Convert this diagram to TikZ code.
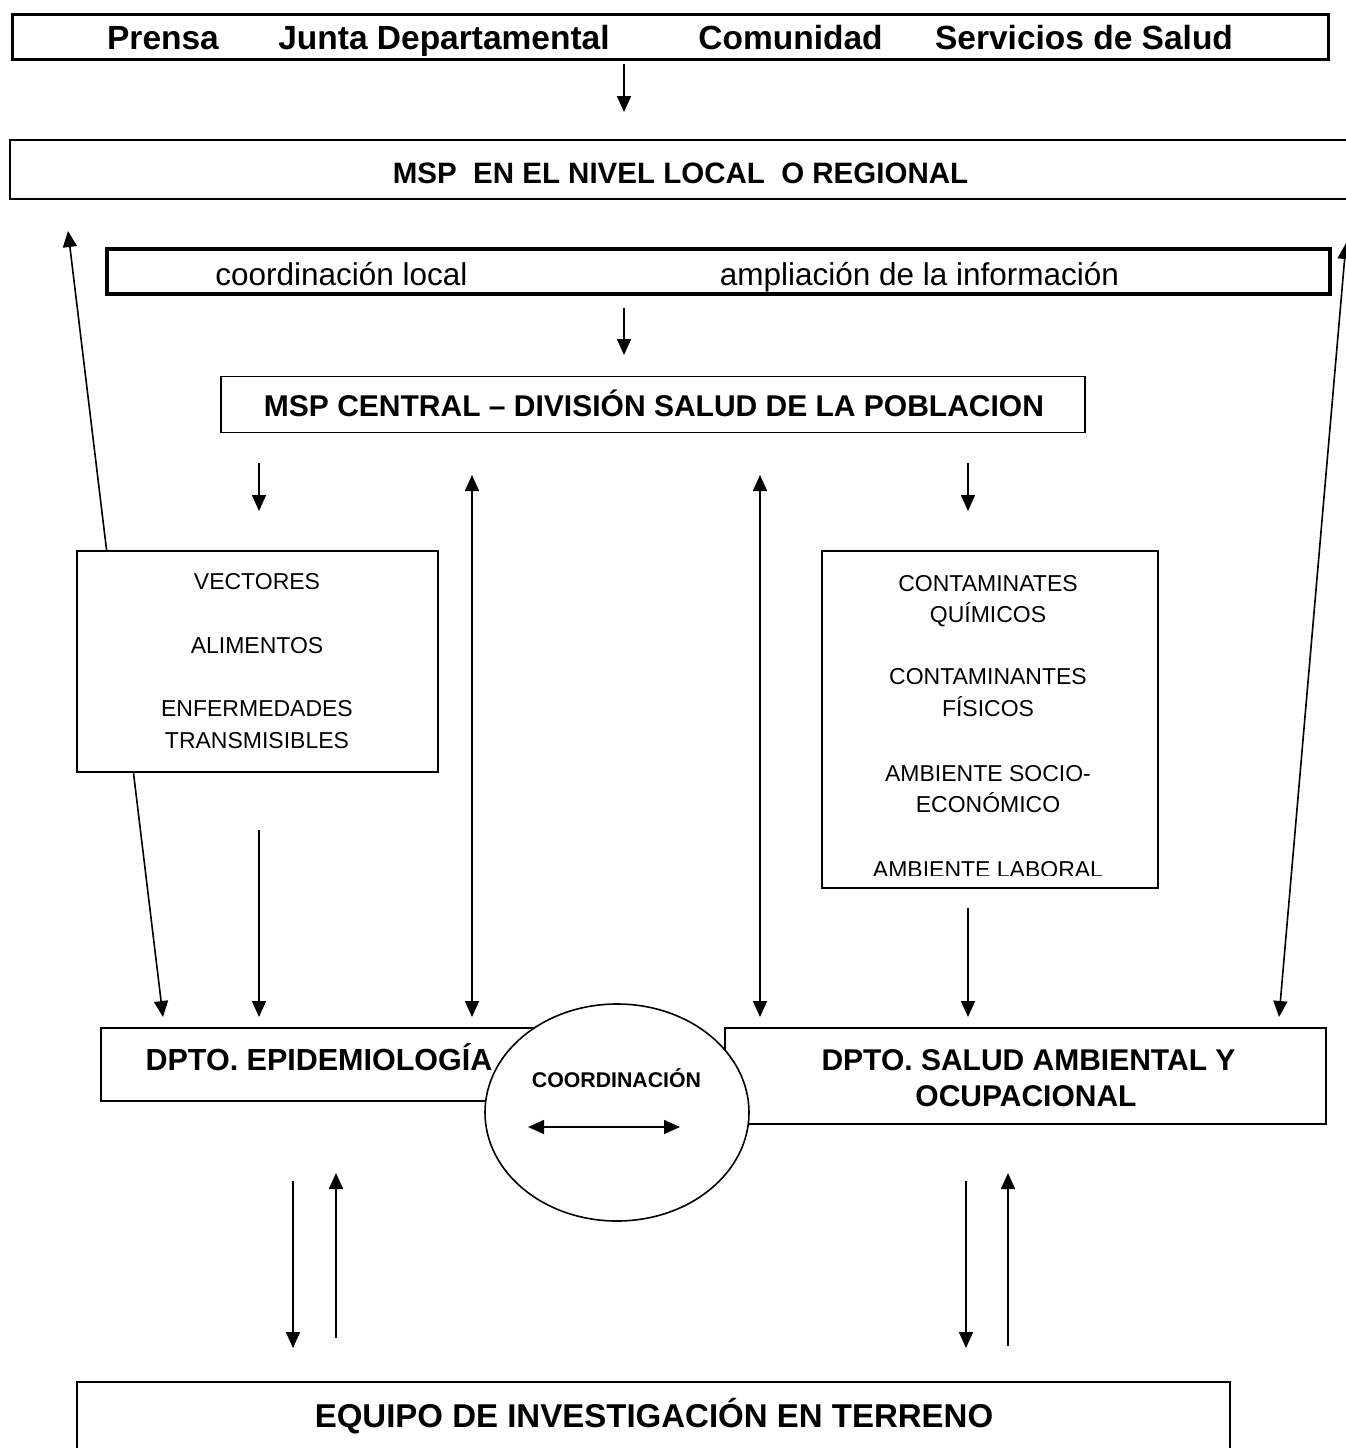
\documentclass[tikz,border=0pt]{standalone}
\usepackage{fontspec}
\setmainfont{Liberation Sans}
\usetikzlibrary{arrows.meta,shapes.geometric}
\begin{document}
\begin{tikzpicture}[x=1pt,y=-1pt,
  box/.style={draw, line width=1.6pt, inner sep=0pt, fill=white},
  arr/.style={-{Triangle[length=16pt,width=14pt]}, line width=1.6pt},
  darr/.style={{Triangle[length=16pt,width=14pt]}-{Triangle[length=16pt,width=14pt]}, line width=1.6pt},
  tb/.style={inner sep=0pt, anchor=base},
  ftop/.style={tb, font=\fontsize{33.5}{40}\selectfont\bfseries},
  freg/.style={tb, font=\fontsize{29.5}{36}\selectfont\bfseries},
  fcoord/.style={tb, font=\fontsize{31.5}{38}\selectfont},
  fcen/.style={tb, font=\fontsize{30}{36}\selectfont\bfseries},
  flist/.style={tb, font=\fontsize{23}{28}\selectfont},
  fdpto/.style={tb, font=\fontsize{30}{36}\selectfont\bfseries},
  fsmall/.style={tb, font=\fontsize{21.3}{26}\selectfont\bfseries},
  fbot/.style={tb, font=\fontsize{33}{40}\selectfont\bfseries}
]
\useasboundingbox (0,0) rectangle (1346,1448);
\clip (0,0) rectangle (1346,1448);

% long slanted double arrows (behind boxes)
\coordinate (lu) at (68,231);
\coordinate (ld) at (163,1017);
\draw[darr] (lu) -- (ld);
\coordinate (ru) at (1346,243);
\coordinate (rd) at (1279,1017);
\draw[darr] (ru) -- (rd);

% boxes
\node[box, line width=3.2pt, minimum width=1316pt, minimum height=45pt] (top) at (670.5,37) {};
\node[box, line width=2pt, minimum width=1360pt, minimum height=59pt] (reg) at (690,169.5) {};
\node[box, line width=4.5pt, minimum width=1223pt, minimum height=45pt] (coord) at (718.5,271.5) {};
\node[box, minimum width=864pt, minimum height=56pt] (central) at (653,404.5) {};
\node[box, minimum width=361pt, minimum height=221pt] (vect) at (257.5,661.5) {};
\node[box, minimum width=336pt, minimum height=337pt] (cont) at (990,719.5) {};
\node[box, minimum width=500pt, minimum height=73pt] (epi) at (351,1064.5) {};
\node[box, minimum width=601pt, minimum height=96pt] (amb) at (1025.5,1076) {};
\node[box, ellipse, minimum width=264pt, minimum height=217pt] (ell) at (617,1112.5) {};
\node[box, line width=2pt, minimum width=1153pt, minimum height=120pt] (equipo) at (653.5,1442) {};

% texts
\node[ftop] (t1) at (163,49) {Prensa};
\node[ftop] (t2) at (444,49) {Junta Departamental};
\node[ftop] (t3) at (790.5,49) {Comunidad};
\node[ftop] (t4) at (1084,49) {Servicios de Salud};
\node[freg] (treg) at (680.5,183.5) {MSP\ \ EN EL NIVEL LOCAL\ \ O REGIONAL};
\node[fcoord] (tc1) at (341.5,285) {coordinación local};
\node[fcoord] (tc2) at (919.5,285) {ampliación de la información};
\node[fcen] (tcen) at (654,416) {MSP CENTRAL – DIVISIÓN SALUD DE LA POBLACION};

\node[flist] (v1) at (257,589) {VECTORES};
\node[flist] (v2) at (257,653) {ALIMENTOS};
\node[flist] (v3) at (257,716.5) {ENFERMEDADES};
\node[flist] (v4) at (257,748.5) {TRANSMISIBLES};

\node[flist] (c1) at (988,591) {CONTAMINATES};
\node[flist] (c2) at (988,622) {QUÍMICOS};
\node[flist] (c3) at (988,684) {CONTAMINANTES};
\node[flist] (c4) at (988,716) {FÍSICOS};
\node[flist] (c5) at (988,781) {AMBIENTE SOCIO-};
\node[flist] (c6) at (988,812) {ECONÓMICO};
\begin{scope}
  \clip (823,552) rectangle (1157,875);
  \node[flist] (c7) at (988,877) {AMBIENTE LABORAL};
\end{scope}

\node[fdpto, font=\fontsize{30.5}{36}\selectfont\bfseries] (tepi) at (319,1070.5) {DPTO. EPIDEMIOLOGÍA};
\node[fdpto] (tamb1) at (1028.5,1070.5) {DPTO. SALUD AMBIENTAL Y};
\node[fdpto] (tamb2) at (1026,1106.5) {OCUPACIONAL};
\node[fsmall] (tcoo) at (616.5,1087.5) {COORDINACIÓN};
\node[fbot] (tequ) at (654,1427) {EQUIPO DE INVESTIGACIÓN EN TERRENO};

% arrows
\coordinate (a1s) at (624,64);   \coordinate (a1e) at (624,112);
\coordinate (a2s) at (624,308);  \coordinate (a2e) at (624,355);
\coordinate (a3s) at (259,463);  \coordinate (a3e) at (259,511);
\coordinate (a4s) at (968,463);  \coordinate (a4e) at (968,511);
\coordinate (d1s) at (472,475);  \coordinate (d1e) at (472,1017);
\coordinate (d2s) at (760,475);  \coordinate (d2e) at (760,1017);
\coordinate (a5s) at (259,830);  \coordinate (a5e) at (259,1017);
\coordinate (a6s) at (968,908);  \coordinate (a6e) at (968,1017);
\coordinate (b1s) at (293,1181); \coordinate (b1e) at (293,1348);
\coordinate (b2s) at (336,1338); \coordinate (b2e) at (336,1173);
\coordinate (b3s) at (966,1181); \coordinate (b3e) at (966,1348);
\coordinate (b4s) at (1008,1346);\coordinate (b4e) at (1008,1173);
\coordinate (cl) at (528,1127);  \coordinate (cr) at (680,1127);

\draw[arr] (a1s) -- (a1e);
\draw[arr] (a2s) -- (a2e);
\draw[arr] (a3s) -- (a3e);
\draw[arr] (a4s) -- (a4e);
\draw[darr] (d1s) -- (d1e);
\draw[darr] (d2s) -- (d2e);
\draw[arr] (a5s) -- (a5e);
\draw[arr] (a6s) -- (a6e);
\draw[arr] (b1s) -- (b1e);
\draw[arr] (b2s) -- (b2e);
\draw[arr] (b3s) -- (b3e);
\draw[arr] (b4s) -- (b4e);
\draw[darr] (cl) -- (cr);
\end{tikzpicture}
\end{document}
